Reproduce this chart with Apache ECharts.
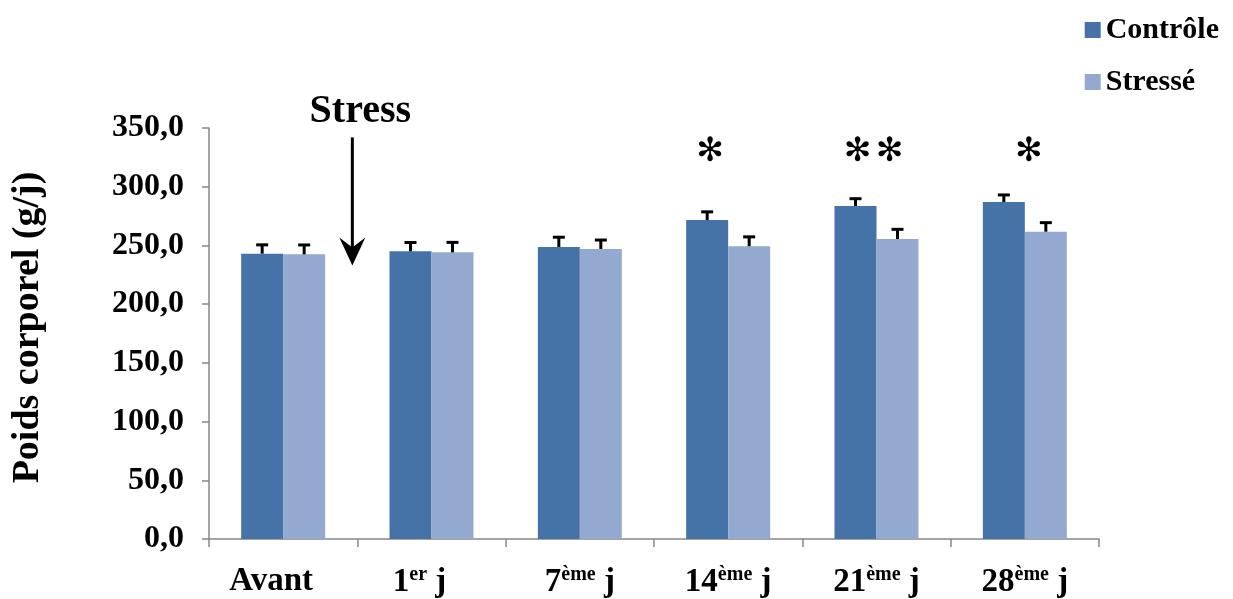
<!DOCTYPE html>
<html>
<head>
<meta charset="utf-8">
<script src="https://cdn.jsdelivr.net/npm/echarts@6/dist/echarts.min.js"></script>
<style>
  html, body { margin: 0; padding: 0; background: #ffffff; }
  #chart { width: 1233px; height: 599px; }
</style>
</head>
<body>
<div id="chart"></div>
<script>
// Body weight per period, control vs. stressed groups
const categories = ['Avant', '1er j', '7ème j', '14ème j', '21ème j', '28ème j'];
const controle = [243.0, 245.0, 248.7, 271.6, 283.6, 287.0];
const stresse = [242.4, 244.1, 247.0, 249.3, 255.5, 261.7];
const errControle = [7.5, 7.5, 8.3, 7.0, 6.2, 6.0];
const errStresse = [8.0, 8.5, 7.6, 8.0, 8.2, 7.7];
// Significance marks drawn above each period
const significance = ['', '', '', '*', '**', '*'];
const yTicks = [0, 50, 100, 150, 200, 250, 300, 350];

const FONT = "'Liberation Serif', 'Times New Roman', serif";
const C1 = '#4572A7';
const C2 = '#93A9CF';
const AXIS = '#868686';
const BAR_W = 42;

const chart = echarts.init(document.getElementById('chart'), null, { renderer: 'canvas' });

function errorSeries(name, values, errs, shift) {
  return {
    type: 'custom',
    name: name + ' err',
    z: 5,
    silent: true,
    data: values.map((v, i) => [i, v, errs[i]]),
    renderItem: function (params, api) {
      const i = api.value(0);
      const top = api.coord([i, api.value(1)]);
      const cap = api.coord([i, api.value(1) + api.value(2)]);
      const x = top[0] + shift;
      return {
        type: 'group',
        children: [
          { type: 'line', shape: { x1: x, y1: top[1], x2: x, y2: cap[1] }, style: { stroke: '#000', lineWidth: 3 } },
          { type: 'line', shape: { x1: x - 6, y1: cap[1], x2: x + 6, y2: cap[1] }, style: { stroke: '#000', lineWidth: 3 } }
        ]
      };
    }
  };
}

const STAR_Y = 329;
const starSeries = {
  type: 'custom',
  name: 'sig',
  z: 6,
  silent: true,
  data: significance.map((s, i) => [i, STAR_Y, s]),
  renderItem: function (params, api) {
    const i = api.value(0);
    const s = significance[i];
    if (!s) return null;
    const p = api.coord([i, STAR_Y]);
    // a single mark sits above the control bar on its own; pairs straddle the centre
    const n = s.length;
    const cx = n === 1 && i === 3 ? p[0] - 18 : p[0] + (n === 1 ? 4 : -3);
    const children = [];
    for (let k = 0; k < n; k++) {
      children.push({
        type: 'text',
        style: {
          text: '\u273B',
          x: cx + (k - (n - 1) / 2) * 32,
          y: p[1],
          align: 'center',
          verticalAlign: 'middle',
          font: "33px 'DejaVu Sans'",
          fill: '#000'
        }
      });
    }
    return { type: 'group', children: children };
  }
};

// Arrow marking the start of the stress period, between the first two periods
const arrowSeries = {
  type: 'custom',
  name: 'stress',
  z: 6,
  silent: true,
  data: [[0, 0]],
  renderItem: function (params, api) {
    const a = api.coord([0, 0]);
    const b = api.coord([1, 0]);
    const x = (a[0] + b[0]) / 2 - 5;
    const yTop = api.coord([0, 342])[1];
    const yTip = api.coord([0, 233])[1];
    return {
      type: 'group',
      children: [
        { type: 'text', style: { text: 'Stress', x: x + 8, y: api.coord([0, 350])[1] + 4, align: 'center', verticalAlign: 'bottom', font: 'bold 40px ' + FONT, fill: '#000' } },
        { type: 'line', shape: { x1: x, y1: yTop, x2: x, y2: yTip - 14 }, style: { stroke: '#000', lineWidth: 3 } },
        { type: 'polygon', shape: { points: [[x, yTip], [x - 13, yTip - 28], [x, yTip - 18], [x + 13, yTip - 28]] }, style: { fill: '#000' } }
      ]
    };
  }
};

chart.setOption({
  animation: false,
  backgroundColor: '#ffffff',
  textStyle: { fontFamily: FONT },
  grid: { left: 209, right: 134, top: 128, bottom: 60, containLabel: false },
  legend: {
    orient: 'vertical',
    right: 9,
    top: 10,
    icon: 'rect',
    itemWidth: 16,
    itemHeight: 16,
    itemGap: 22,
    data: ['Contrôle', 'Stressé'],
    textStyle: { fontFamily: FONT, fontWeight: 'bold', fontSize: 30, lineHeight: 30, color: '#000' }
  },
  xAxis: {
    type: 'category',
    data: categories,
    axisLine: { lineStyle: { color: AXIS, width: 1.5 } },
    axisTick: { show: true, length: 8, lineStyle: { color: AXIS, width: 1.5 } },
    axisLabel: {
      margin: 26,
      interval: 0,
      formatter: function (v, idx) {
        // the first two labels sit a little left of their slot
        const tail = idx < 2 ? '{p|}' : '';
        const m = v.match(/^(\d+)(er|ème) (j)$/);
        if (!m) return '{b|' + v + '}' + tail;
        return '{b|' + m[1] + '}{s|' + m[2] + '}{b| ' + m[3] + '}' + tail;
      },
      rich: {
        b: { fontFamily: FONT, fontWeight: 'bold', fontSize: 33, color: '#000' },
        s: { fontFamily: FONT, fontWeight: 'bold', fontSize: 20, color: '#000', padding: [0, 0, 14, 0] },
        p: { width: 24 }
      }
    }
  },
  yAxis: {
    type: 'value',
    min: yTicks[0],
    max: yTicks[yTicks.length - 1],
    interval: yTicks[1] - yTicks[0],
    name: 'Poids corporel (g/j)',
    nameLocation: 'middle',
    nameGap: 162,
    nameTextStyle: { fontFamily: FONT, fontWeight: 'bold', fontSize: 38, color: '#000', padding: [0, 0, 0, 12] },
    splitLine: { show: false },
    axisLine: { show: true, lineStyle: { color: AXIS, width: 1.5 } },
    axisTick: { show: true, length: 7, lineStyle: { color: AXIS, width: 1.5 } },
    axisLabel: {
      margin: 25,
      formatter: v => v.toFixed(1).replace('.', ','),
      fontFamily: FONT, fontWeight: 'bold', fontSize: 32, color: '#000'
    }
  },
  series: [
    { type: 'bar', name: 'Contrôle', data: controle, barWidth: BAR_W, barGap: '0%', itemStyle: { color: C1 } },
    { type: 'bar', name: 'Stressé', data: stresse, barWidth: BAR_W, barGap: '0%', itemStyle: { color: C2 } },
    errorSeries('Contrôle', controle, errControle, -BAR_W / 2),
    errorSeries('Stressé', stresse, errStresse, BAR_W / 2),
    starSeries,
    arrowSeries
  ]
});
</script>
</body>
</html>
